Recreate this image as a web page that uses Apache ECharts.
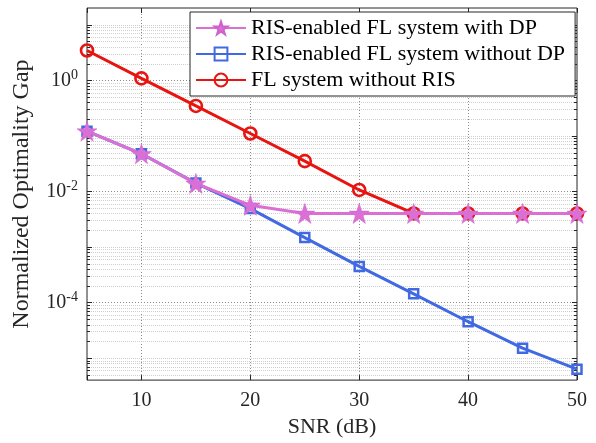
<!DOCTYPE html>
<html>
<head>
<meta charset="utf-8">
<script src="https://cdn.jsdelivr.net/npm/echarts@6/dist/echarts.min.js"></script>
<style>
  html, body { margin: 0; padding: 0; background: #fff; }
  #chart { width: 596px; height: 443px; }
</style>
</head>
<body>
<div id="chart"></div>
<script>
// SNR sweep (dB)
const snr = [5, 10, 15, 20, 25, 30, 35, 40, 45, 50];

// Normalized optimality gap for each scheme
const gapWithDP    = [0.121, 0.0475, 0.0139, 0.0056, 0.0040, 0.0040, 0.0040, 0.0040, 0.0040, 0.0040];
const gapWithoutDP = [0.121, 0.0475, 0.0141, 0.0049, 0.00147, 0.000446, 0.000143, 0.000045, 0.0000150, 0.0000063];
const gapNoRIS     = [3.44, 1.08, 0.345, 0.110, 0.035, 0.0106, 0.0040, 0.0040, 0.0040, 0.0040];

const seriesNames = [
  'RIS-enabled FL system with DP',
  'RIS-enabled FL system without DP',
  'FL system without RIS'
];

// Axis ranges and labelled ticks
const xMin = 5, xMax = 50;
const xTickLabels = [10, 20, 30, 40, 50];
const yMin = 4e-6, yMax = 20;
const yLabelExponents = [-4, -2, 0];
const yDecades = [-6, -5, -4, -3, -2, -1, 0, 1];
const yMinorSteps = [1, 2, 3, 4, 5, 6, 7, 8, 9];

const FONT = 'Liberation Serif';
const AXIS_COLOR = '#262626';

const starPath = 'path://M50,0 L61.8,35.1 L98.1,35.1 L68.8,56.8 L79.8,91.9 L50,70.5 L20.2,91.9 L31.2,56.8 L1.9,35.1 L38.2,35.1 Z';

const pairs = ys => snr.map((x, i) => [x, ys[i]]);

// Log-axis grid: dotted lines at every decade and sub-decade step, plus inward ticks on both sides
function renderLogGrid(params, api) {
  const r = params.coordSys;
  const children = [];
  yDecades.forEach(e => {
    yMinorSteps.forEach(m => {
      const v = m * Math.pow(10, e);
      if (v <= yMin * 1.0001 || v >= yMax * 0.9999) return;
      const y = Math.round(api.coord([xMin, v])[1]) + 0.5;
      const labelled = m === 1 && yLabelExponents.indexOf(e) >= 0;
      const decade = m === 1;
      children.push({
        type: 'line',
        shape: { x1: r.x, y1: y, x2: r.x + r.width, y2: y },
        style: {
          stroke: labelled ? '#8c8c8c' : '#cfcfcf',
          lineWidth: 1,
          lineDash: labelled ? [1, 2] : [1, 1]
        },
        silent: true
      });
      const len = decade ? 5 : 3;
      children.push({
        type: 'line',
        shape: { x1: r.x, y1: y, x2: r.x + len, y2: y },
        style: { stroke: AXIS_COLOR, lineWidth: 1 },
        silent: true
      });
      children.push({
        type: 'line',
        shape: { x1: r.x + r.width - len, y1: y, x2: r.x + r.width, y2: y },
        style: { stroke: AXIS_COLOR, lineWidth: 1 },
        silent: true
      });
    });
  });
  return { type: 'group', children };
}

const chart = echarts.init(document.getElementById('chart'), null, { renderer: 'canvas' });

chart.setOption({
  animation: false,
  backgroundColor: '#fff',
  grid: {
    left: 87, right: 19, top: 8, bottom: 60,
    show: true, borderColor: AXIS_COLOR, borderWidth: 1, backgroundColor: 'transparent'
  },
  legend: {
    data: seriesNames,
    orient: 'vertical',
    left: 190, top: 12,
    padding: [5, 10, 5, 5],
    itemGap: 4,
    itemWidth: 50,
    itemHeight: 16,
    backgroundColor: '#fff',
    borderColor: AXIS_COLOR,
    borderWidth: 1,
    borderRadius: 0,
    textStyle: { fontFamily: FONT, fontSize: 22, lineHeight: 22, color: '#000' }
  },
  xAxis: [{
    type: 'value',
    min: xMin, max: xMax,
    name: 'SNR (dB)',
    nameLocation: 'middle',
    nameGap: 30,
    nameTextStyle: { fontFamily: FONT, fontSize: 22, color: AXIS_COLOR },
    axisLine: { show: false },
    axisTick: { show: true, inside: true, length: 5, lineStyle: { color: AXIS_COLOR } },
    axisLabel: {
      fontFamily: FONT, fontSize: 20, color: AXIS_COLOR, margin: 11,
      formatter: v => (xTickLabels.indexOf(v) >= 0 ? String(v) : '')
    },
    splitLine: { show: true, lineStyle: { color: '#8c8c8c', type: [1, 2], width: 1 } }
  }, {
    type: 'value',
    position: 'top',
    min: xMin, max: xMax,
    axisLine: { show: false },
    axisTick: { show: true, inside: true, length: 5, lineStyle: { color: AXIS_COLOR } },
    axisLabel: { show: false },
    splitLine: { show: false }
  }],
  yAxis: {
    type: 'log',
    logBase: 10,
    min: yMin, max: yMax,
    name: 'Normalized Optimality Gap',
    nameLocation: 'middle',
    nameGap: 53,
    nameTextStyle: { fontFamily: FONT, fontSize: 24, color: AXIS_COLOR },
    axisLine: { show: false },
    axisTick: { show: false },
    splitLine: { show: false },
    axisLabel: {
      margin: 9,
      color: AXIS_COLOR,
      formatter: v => {
        const e = Math.round(Math.log10(v));
        if (Math.abs(Math.log10(v) - e) > 1e-6 || yLabelExponents.indexOf(e) < 0) return '';
        return '{b|10}{s|' + e + '}';
      },
      rich: {
        b: { fontFamily: FONT, fontSize: 20, color: AXIS_COLOR },
        s: { fontFamily: FONT, fontSize: 14, color: AXIS_COLOR, padding: [0, 0, 10, 0] }
      }
    }
  },
  series: [
    {
      type: 'custom',
      name: 'grid',
      silent: true,
      clip: false,
      z: 0,
      data: [[xMin, 1]],
      renderItem: renderLogGrid
    },
    {
      name: seriesNames[0],
      type: 'line',
      z: 5,
      data: pairs(gapWithDP),
      symbol: starPath,
      symbolSize: 20,
      lineStyle: { color: '#DA70D6', width: 3 },
      itemStyle: { color: '#DA70D6', borderColor: '#D060CC', borderWidth: 0.5 }
    },
    {
      name: seriesNames[1],
      type: 'line',
      z: 4,
      data: pairs(gapWithoutDP),
      symbol: 'rect',
      symbolSize: 9,
      lineStyle: { color: '#4169E1', width: 3 },
      itemStyle: { color: 'rgba(255,255,255,0)', borderColor: '#4169E1', borderWidth: 2.5 }
    },
    {
      name: seriesNames[2],
      type: 'line',
      z: 3,
      data: pairs(gapNoRIS),
      symbol: 'circle',
      symbolSize: 12,
      lineStyle: { color: '#E8140F', width: 3 },
      itemStyle: { color: 'rgba(255,255,255,0)', borderColor: '#E8140F', borderWidth: 2.6 }
    }
  ]
});
</script>
</body>
</html>
